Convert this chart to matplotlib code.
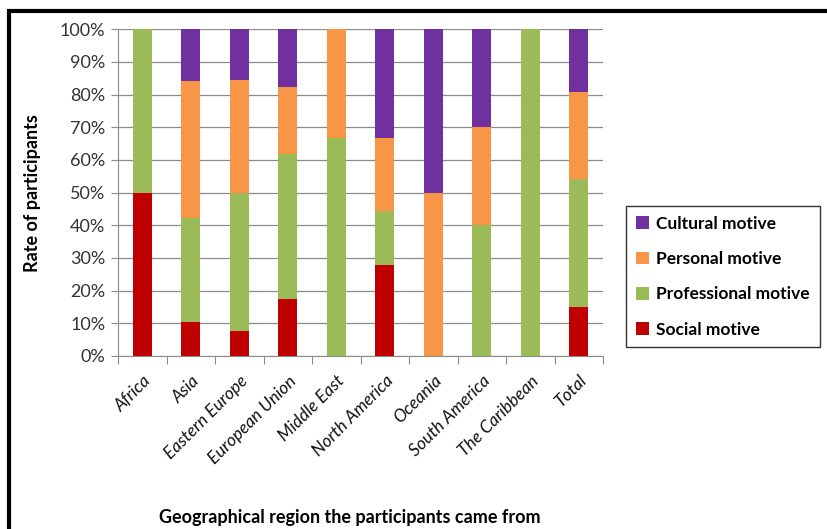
import matplotlib.pyplot as plt
from matplotlib.patches import Rectangle
import numpy as np

plt.rcParams['font.family'] = ['Lato', 'DejaVu Sans']

regions = ['Africa', 'Asia', 'Eastern Europe', 'European Union', 'Middle East',
           'North America', 'Oceania', 'South America', 'The Caribbean', 'Total']

# shares per region (%), bottom to top
social       = [50.0, 10.5,  7.7, 17.6,  0.0, 27.8,  0.0,  0.0,   0.0, 15.0]
professional = [50.0, 31.6, 42.3, 44.1, 66.7, 16.7,  0.0, 40.0, 100.0, 39.2]
personal     = [ 0.0, 42.1, 34.6, 20.6, 33.3, 22.2, 50.0, 30.0,   0.0, 26.6]
cultural     = [ 0.0, 15.8, 15.4, 17.7,  0.0, 33.3, 50.0, 30.0,   0.0, 19.2]

series = [('Social motive', social, '#C00000'),
          ('Professional motive', professional, '#9BBB59'),
          ('Personal motive', personal, '#F79646'),
          ('Cultural motive', cultural, '#7030A0')]

fig = plt.figure(figsize=(8.27, 5.29), dpi=100)
ax = fig.add_axes([118/827, 1-356/529, (603-118)/827, (356-29.3)/529])

x = np.arange(len(regions))
bottom = np.zeros(len(regions))
bars = []
for name, vals, col in series:
    b = ax.bar(x, vals, 0.4, bottom=bottom, color=col, label=name, zorder=3)
    bars.append(b)
    bottom += np.array(vals)

ax.set_xlim(-0.5, len(regions) - 0.5)
ax.set_ylim(0, 100)
ax.set_yticks(np.arange(0, 101, 10))
ax.set_yticklabels(['%d%%' % v for v in range(0, 101, 10)], fontsize=13, color='#333333')
ax.yaxis.grid(True, color='#8C8C8C', linewidth=0.9, zorder=0)
ax.tick_params(axis='y', length=5, color='#8C8C8C', direction='out', pad=4)

# ticks between categories, labels at centres
ax.set_xticks(np.arange(-0.5, len(regions), 1.0))
ax.set_xticklabels([])
ax.tick_params(axis='x', length=6, color='#8C8C8C')
ax.set_xticks(x, minor=True)
ax.set_xticklabels(regions, minor=True, rotation=45, ha='right', rotation_mode='anchor',
                   fontsize=12.5, fontstyle='italic', color='#111111')
ax.tick_params(axis='x', which='minor', length=0, pad=12)

for s in ['top', 'right']:
    ax.spines[s].set_visible(False)
ax.spines['left'].set_color('#8C8C8C')
ax.spines['bottom'].set_color('#8C8C8C')

ax.set_ylabel('Rate of participants', fontsize=13, fontweight='bold', labelpad=14)
fig.text(350/827, 1-517/529, 'Geographical region the participants came from',
         fontsize=13, fontweight='bold', ha='center', va='center')

handles = [bars[3], bars[2], bars[1], bars[0]]
labels = ['Cultural motive', 'Personal motive', 'Professional motive', 'Social motive']
leg = fig.legend(handles, labels, loc='upper left', bbox_to_anchor=(626/827, 1-206/529),
                 frameon=True, fancybox=False, edgecolor='black',
                 handlelength=0.75, handleheight=0.75, handletextpad=0.45,
                 labelspacing=1.12, borderpad=0.55, borderaxespad=0,
                 prop={'weight': 'bold', 'size': 12.5})
leg.get_frame().set_linewidth(1.0)

# outer frame of the chart
fig.patches.append(Rectangle((9/827, -0.1), 1.2, 1 - 11/529 + 0.1, transform=fig.transFigure,
                             fill=False, edgecolor='black', linewidth=3))

fig.savefig('out.png', dpi=100)
